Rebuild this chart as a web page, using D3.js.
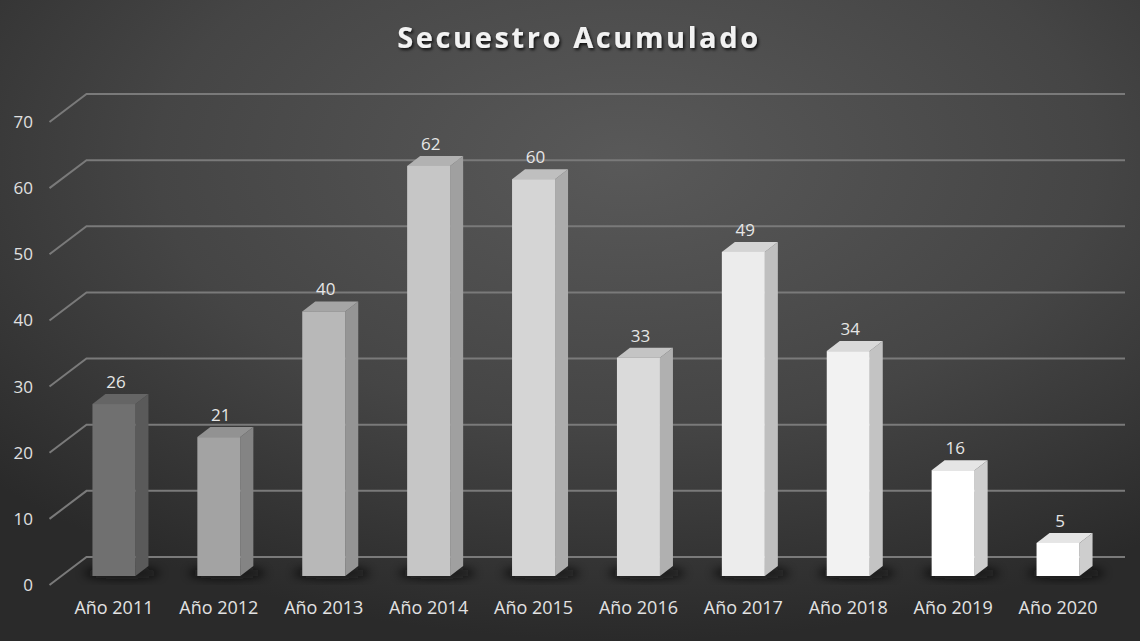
<!DOCTYPE html>
<html lang="es">
    <head>
        <meta charset="UTF-8">
        <script src="https://cdn.jsdelivr.net/npm/d3@7/dist/d3.min.js"></script>
        <title>Secuestro Acumulado</title>
        <style>
            html, body { margin: 0; padding: 0; background: #2b2b2b; }
            text { font-family: "Open Sans", "DejaVu Sans", sans-serif; }
        </style>
    </head>
    <body>
        <div id="canvas"></div>

        <script>
            //  datos
            var years = ['Año 2011', 'Año 2012', 'Año 2013', 'Año 2014', 'Año 2015',
                         'Año 2016', 'Año 2017', 'Año 2018', 'Año 2019', 'Año 2020'];
            var secuestros = [26, 21, 40, 62, 60, 33, 49, 34, 16, 5];
            var yTicks = [0, 10, 20, 30, 40, 50, 60, 70];

            //  tonos de gris de cada barra (de oscuro a blanco)
            var barColors = ['#707070', '#a3a3a3', '#b8b8b8', '#c6c6c6', '#d5d5d5',
                             '#dadada', '#ececec', '#f2f2f2', '#ffffff', '#ffffff'];

            var W = 1140, H = 641;
            //  profundidad del "3D"
            var depth = {dx: 13, dy: -10};   // grosor de la barra
            var wall = {dx: 25, dy: -19};    // pared del fondo respecto al frente de las barras
            var front = {dx: -12, dy: 9};    // borde frontal del suelo

            var x = d3.scaleBand()
                    .domain(years)
                    .range([61.5, 1110.5])
                    .paddingInner(0.59)
                    .paddingOuter(0.295);

            var y = d3.scaleLinear()
                    .domain([0, 70])
                    .range([576, 113]);

            var svg = d3.select('#canvas').append('svg')
                    .attr('width', W)
                    .attr('height', H);

            var defs = svg.append('defs');
            var bg = defs.append('radialGradient')
                    .attr('id', 'bg')
                    .attr('cx', '0.55').attr('cy', '0.25').attr('r', '0.75');
            bg.append('stop').attr('offset', '0%').attr('stop-color', '#595959');
            bg.append('stop').attr('offset', '55%').attr('stop-color', '#454545');
            bg.append('stop').attr('offset', '100%').attr('stop-color', '#2a2a2a');

            defs.append('filter').attr('id', 'blur')
                    .attr('x', '-50%').attr('y', '-50%').attr('width', '200%').attr('height', '200%')
                    .append('feGaussianBlur').attr('stdDeviation', 5);

            var ts = defs.append('filter').attr('id', 'tshadow');
            ts.append('feDropShadow')
                    .attr('dx', 1.5).attr('dy', 2).attr('stdDeviation', 1.5)
                    .attr('flood-color', '#000').attr('flood-opacity', 0.8);

            svg.append('rect')
                    .attr('width', W).attr('height', H)
                    .attr('fill', 'url(#bg)');

            //  titulo
            svg.append('text')
                    .attr('x', 579).attr('y', 48)
                    .attr('text-anchor', 'middle')
                    .attr('fill', '#f2f2f2')
                    .attr('font-size', 29)
                    .attr('font-weight', 'bold')
                    .attr('letter-spacing', 2.6)
                    .attr('filter', 'url(#tshadow)')
                    .text('Secuestro Acumulado');

            //  rejilla: tramo diagonal + tramo horizontal en la pared
            var x0 = x.range()[0];
            var grid = svg.append('g').attr('class', 'grid');
            grid.selectAll('path')
                    .data(yTicks)
                    .enter().append('path')
                    .attr('d', function (d) {
                        var yy = y(d);
                        return 'M' + (x0 + front.dx) + ',' + (yy + front.dy) +
                               'L' + (x0 + wall.dx) + ',' + (yy + wall.dy) +
                               'H' + 1125;
                    })
                    .attr('fill', 'none')
                    .attr('stroke', '#7a7a7a')
                    .attr('stroke-width', 2);

            //  eje y
            svg.append('g').selectAll('text')
                    .data(yTicks)
                    .enter().append('text')
                    .attr('x', 33)
                    .attr('y', function (d) { return y(d) + front.dy + 6; })
                    .attr('text-anchor', 'end')
                    .attr('fill', '#e0e0e0')
                    .attr('font-size', 17)
                    .text(function (d) { return d; });

            //  sombras en la base
            svg.append('g').selectAll('ellipse')
                    .data(years)
                    .enter().append('ellipse')
                    .attr('cx', function (d) { return x(d) + x.bandwidth() / 2 + 8; })
                    .attr('cy', y(0) - 3)
                    .attr('rx', x.bandwidth() * 0.9)
                    .attr('ry', 6)
                    .attr('fill', '#111')
                    .attr('opacity', 0.75)
                    .attr('filter', 'url(#blur)');

            //  barras
            var bars = svg.append('g').selectAll('g')
                    .data(secuestros)
                    .enter().append('g');

            //  lado derecho
            bars.append('path')
                    .attr('d', function (d, i) {
                        var x1 = x(years[i]) + x.bandwidth();
                        return 'M' + x1 + ',' + y(0) +
                               'L' + x1 + ',' + y(d) +
                               'l' + depth.dx + ',' + depth.dy +
                               'L' + (x1 + depth.dx) + ',' + (y(0) + depth.dy) + 'Z';
                    })
                    .attr('fill', function (d, i) { return d3.color(barColors[i]).darker(0.6); });

            //  cara superior
            bars.append('path')
                    .attr('d', function (d, i) {
                        var xl = x(years[i]), w = x.bandwidth();
                        return 'M' + xl + ',' + y(d) +
                               'l' + depth.dx + ',' + depth.dy +
                               'h' + w +
                               'l' + (-depth.dx) + ',' + (-depth.dy) + 'Z';
                    })
                    .attr('fill', function (d, i) { return d3.color(barColors[i]).darker(0.3); });

            //  cara frontal
            bars.append('rect')
                    .attr('x', function (d, i) { return x(years[i]); })
                    .attr('y', function (d) { return y(d); })
                    .attr('width', x.bandwidth())
                    .attr('height', function (d) { return y(0) - y(d); })
                    .attr('fill', function (d, i) { return barColors[i]; });

            //  etiquetas de valor
            bars.append('text')
                    .attr('x', function (d, i) { return x(years[i]) + x.bandwidth() / 2 + 2; })
                    .attr('y', function (d) { return y(d) + depth.dy - 6; })
                    .attr('text-anchor', 'middle')
                    .attr('fill', '#e6e6e6')
                    .attr('font-size', 17)
                    .text(function (d) { return d; });

            //  eje x
            svg.append('g').selectAll('text')
                    .data(years)
                    .enter().append('text')
                    .attr('x', function (d) { return x(d) + x.bandwidth() / 2; })
                    .attr('y', 614)
                    .attr('text-anchor', 'middle')
                    .attr('fill', '#e2e2e2')
                    .attr('font-size', 18)
                    .text(function (d) { return d; });
        </script>
    </body>
</html>
